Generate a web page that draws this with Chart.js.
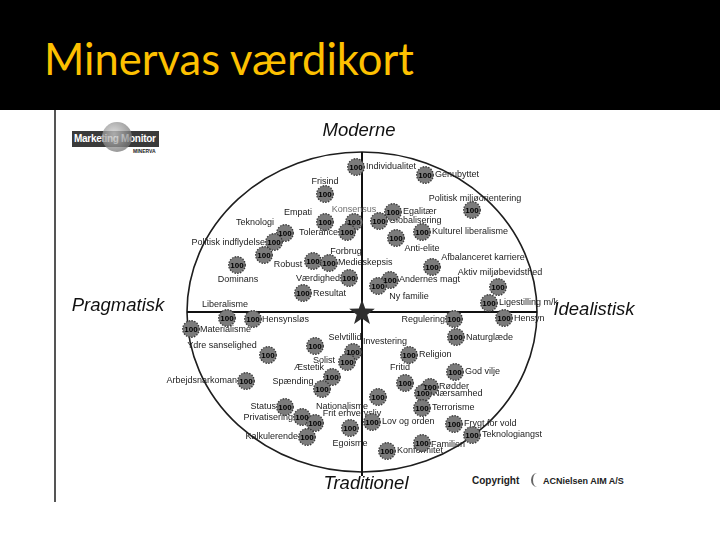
<!DOCTYPE html>
<html>
<head>
<meta charset="utf-8">
<script src="https://cdn.jsdelivr.net/npm/chart.js@4/dist/chart.umd.min.js"></script>
<style>
html,body{margin:0;padding:0;width:720px;height:540px;background:#fff;overflow:hidden;position:relative;}
#band{position:absolute;left:0;top:0;width:720px;height:110px;background:#000;}
#title{position:absolute;left:44px;top:37px;font-family:Lato,"Open Sans",sans-serif;font-size:43.5px;line-height:43.5px;color:#fdc000;white-space:nowrap;}
#frameline{position:absolute;left:54px;top:110px;width:2px;height:392px;background:#555;}
#logo{position:absolute;left:72px;top:131px;width:87px;height:16px;background:#3a3a3a;}
#logo .globe{position:absolute;left:30px;top:-9px;width:30px;height:30px;border-radius:50%;background:radial-gradient(circle at 40% 40%,rgba(210,210,210,0.75),rgba(120,120,120,0.75) 70%);}
#logo .txt{position:absolute;left:2px;top:2px;font:bold 10px "Liberation Sans",Arial,sans-serif;color:#fff;letter-spacing:-0.3px;white-space:nowrap;}
#minerva{position:absolute;left:133px;top:148px;font:bold 5px "Liberation Sans",Arial,sans-serif;color:#222;}
#copy{position:absolute;left:472px;top:475px;font:bold 10px "Liberation Sans",Arial,sans-serif;color:#222;white-space:nowrap;}
#acn{position:absolute;left:543px;top:476px;font:bold 9px "Liberation Sans",Arial,sans-serif;color:#222;white-space:nowrap;}
#acnmark{position:absolute;left:531px;top:473px;width:10px;height:14px;border-left:2px solid #666;border-radius:50%;}
canvas{position:absolute;left:0;top:0;}
</style>
</head>
<body>
<div id="band"></div>
<div id="title">Minervas værdikort</div>
<div id="frameline"></div>
<div id="logo"><div class="txt">Marketing Monitor</div><div class="globe"></div></div>
<div id="minerva">MINERVA</div>
<div id="copy">Copyright</div>
<div id="acnmark"></div>
<div id="acn">ACNielsen AIM A/S</div>
<canvas id="c" width="720" height="540"></canvas>
<script>
// ---- data (map units: x = pragmatisk(-) / idealistisk(+), y = traditionel(-) / moderne(+)) ----
const bubbleX = [-6, 63, -37, -37, -8, 31, 17, 110, -77, -15, -88, 60, 34, -98, -125, -49, -33, -13, -59, 70, 28, 16, 136, 127,
  -135, -109, -171, 142, 92, 94, -94, -47, -9, -15, 47, -30, -40, -116, 43, 68, 61, 93, 16, -77, -60, -47, -55, -12, 10, 60, 92, 110, 60, 25];
const bubbleY = [145, 137, 118, 90, 90, 100, 91, 102, 79, 80, 70, 80, 74, 57, 47, 51, 49, 34, 19, 45, 32, 26, 25, 9,
  -6, -7, -17, -6, -7, -25, -43, -34, -40, -50, -43, -65, -77, -69, -71, -75, -81, -60, -85, -95, -105, -111, -125, -116, -110, -96, -112, -123, -131, -139];
const bubbleValue = [100, 100, 100, 100, 100, 100, 100, 100, 100, 100, 100, 100, 100, 100, 100, 100, 100, 100, 100, 100, 100, 100, 100, 100,
  100, 100, 100, 100, 100, 100, 100, 100, 100, 100, 100, 100, 100, 100, 100, 100, 100, 100, 100, 100, 100, 100, 100, 100, 100, 100, 100, 100, 100, 100];

const labelText = ["Individualitet", "Genubyttet", "Frisind", "Politisk miljøorientering", "Empati", "Konsensus", "Egalitær", "Globalisering",
  "Teknologi", "Tolerance", "Kulturel liberalisme", "Politisk indflydelse", "Anti-elite", "Forbrug", "Afbalanceret karriere", "Robust",
  "Medieskepsis", "Aktiv miljøbevidsthed", "Dominans", "Værdighed", "Andernes magt", "Resultat", "Ny familie", "Liberalisme",
  "Ligestilling m/k", "Hensynsløs", "Regulering", "Hensyn", "Materialisme", "Selvtillid", "Naturglæde", "Investering",
  "Ydre sanselighed", "Religion", "Solist", "Æstetik", "Fritid", "God vilje", "Arbejdsnarkoman", "Spænding", "Rødder",
  "Nærsamhed", "Status", "Nationalisme", "Terrorisme", "Frit erhvervsliv", "Privatisering", "Lov og orden", "Frygt for vold",
  "Teknologiangst", "Kalkulerende", "Egoisme", "Familien", "Konformitet"];
const labelX = [4, 73, -37, 113, -64, -8, 41, 27, -107, -24, 70, -97, 60, -16, 121, -74, -24, 138, -124, -22, 37, -49, 47, -137,
  137, -100, 83, 152, -162, -17, 104, 23, -140, 57, -27, -53, 38, 103, -125, -69, 77, 71, -86, -20, 70, -10, -69, 20, 102, 120, -64, -12, 69, 35];
const labelY = [145, 137, 130, 113, 99, 102, 100, 91, 89, 79, 80, 69, 63, 60, 54, 47, 49, 39, 32, 33, 32, 18, 15, 7,
  9, -8, -8, -7, -18, -26, -26, -30, -34, -43, -49, -56, -56, -60, -69, -70, -75, -82, -95, -95, -96, -102, -106, -110, -112, -123, -125, -132, -133, -139];
// text anchor: l = text starts at point, c = centred, r = text ends at point
const labelAnchor = ["l", "l", "c", "c", "c", "c", "l", "l", "c", "r", "l", "r", "c", "c", "c", "c", "l", "c", "c", "r", "l", "l", "c", "c",
  "l", "l", "r", "l", "l", "c", "l", "c", "c", "l", "r", "c", "c", "l", "r", "c", "l", "l", "r", "c", "l", "c", "r", "l", "l", "l", "r", "c", "l", "l"];

const poleText = ["Moderne", "Traditionel", "Pragmatisk", "Idealistisk"];
const poleX = [-3, 4, -244, 232];
const poleY = [181, -172, 6, 2];

// ---- drawing helpers ----
function makeBubble() {
  const c = document.createElement('canvas');
  c.width = 20; c.height = 20;
  const g = c.getContext('2d');
  g.beginPath(); g.arc(10, 10, 8.3, 0, Math.PI * 2);
  g.fillStyle = '#7b7b7b'; g.fill();
  g.setLineDash([1.6, 1.2]); g.lineWidth = 1.3; g.strokeStyle = '#3a3a3a'; g.stroke();
  return c;
}
function makeStar() {
  const c = document.createElement('canvas');
  c.width = 30; c.height = 30;
  const g = c.getContext('2d');
  const R = 13.5, r = 5.5, cx = 15, cy = 16;
  g.beginPath();
  for (let i = 0; i < 10; i++) {
    const a = -Math.PI / 2 + i * Math.PI / 5;
    const rad = i % 2 === 0 ? R : r;
    const px = cx + rad * Math.cos(a), py = cy + rad * Math.sin(a);
    if (i === 0) g.moveTo(px, py); else g.lineTo(px, py);
  }
  g.closePath(); g.fillStyle = '#2e2e2e'; g.fill();
  return c;
}

const mapPlugin = {
  id: 'mapPlugin',
  beforeDatasetsDraw(chart) {
    const { ctx, chartArea: a, scales: { x, y } } = chart;
    const x0 = x.getPixelForValue(0), y0 = y.getPixelForValue(0);
    ctx.save();
    // circle
    ctx.beginPath();
    ctx.ellipse((a.left + a.right) / 2, (a.top + a.bottom) / 2, (a.right - a.left) / 2, (a.bottom - a.top) / 2, 0, 0, Math.PI * 2);
    ctx.lineWidth = 1.6; ctx.strokeStyle = '#1e1e1e'; ctx.stroke();
    // axes
    ctx.beginPath();
    ctx.moveTo(x0, a.top); ctx.lineTo(x0, a.bottom + 4);
    ctx.moveTo(a.left, y0); ctx.lineTo(a.right, y0);
    ctx.lineWidth = 2; ctx.strokeStyle = '#111'; ctx.stroke();
    // labels
    ctx.font = '9px "Liberation Sans", Arial, sans-serif';
    ctx.textBaseline = 'middle';
    for (let i = 0; i < labelText.length; i++) {
      ctx.textAlign = labelAnchor[i] === 'l' ? 'left' : labelAnchor[i] === 'r' ? 'right' : 'center';
      ctx.fillStyle = labelText[i] === 'Konsensus' ? '#6e6e6e' : '#1c1c1c';
      ctx.fillText(labelText[i], x.getPixelForValue(labelX[i]), y.getPixelForValue(labelY[i]));
    }
    // pole titles
    ctx.font = 'italic 18.5px "Liberation Sans", Arial, sans-serif';
    ctx.textAlign = 'center';
    ctx.fillStyle = '#111';
    for (let i = 0; i < poleText.length; i++) {
      ctx.fillText(poleText[i], x.getPixelForValue(poleX[i]), y.getPixelForValue(poleY[i]));
    }
    ctx.restore();
  },
  afterDatasetsDraw(chart) {
    const { ctx } = chart;
    const meta = chart.getDatasetMeta(0);
    ctx.save();
    ctx.font = 'bold 8px "Liberation Sans", Arial, sans-serif';
    ctx.textAlign = 'center'; ctx.textBaseline = 'middle'; ctx.fillStyle = '#000';
    meta.data.forEach((el, i) => {
      ctx.fillText(String(bubbleValue[i]), el.x, el.y + 0.5);
    });
    ctx.restore();
  }
};

new Chart(document.getElementById('c').getContext('2d'), {
  type: 'scatter',
  data: {
    datasets: [
      {
        data: bubbleX.map((v, i) => ({ x: v, y: bubbleY[i] })),
        pointStyle: makeBubble(),
        pointRadius: 9,
        clip: false
      },
      {
        data: [{ x: 0, y: 0 }],
        pointStyle: makeStar(),
        pointRadius: 14,
        clip: false
      }
    ]
  },
  options: {
    responsive: false,
    animation: false,
    events: [],
    devicePixelRatio: 1,
    layout: { padding: { left: 187, right: 183, top: 152, bottom: 68 } },
    scales: {
      x: { type: 'linear', min: -175, max: 175, display: false },
      y: { type: 'linear', min: -160, max: 160, display: false }
    },
    plugins: { legend: { display: false }, tooltip: { enabled: false }, title: { display: false } }
  },
  plugins: [mapPlugin]
});
</script>
</body>
</html>
